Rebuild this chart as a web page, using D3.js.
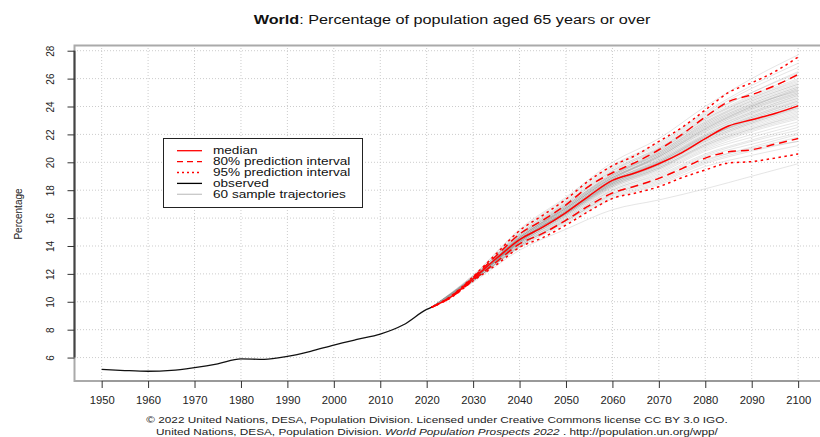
<!DOCTYPE html>
<html>
<head>
<meta charset="utf-8">
<script src="https://cdn.jsdelivr.net/npm/d3@7"></script>
<style>
  html, body { margin: 0; padding: 0; background: #fff; }
  svg { display: block; font-family: "Liberation Sans", Arial, Helvetica, sans-serif; }
</style>
</head>
<body>
<svg id="chart" width="820" height="437"></svg>
<script>
/* World: % population aged 65+ (observed + probabilistic projection) */

// observed (black)
const obsYears  = [1950, 1955, 1960, 1965, 1970, 1975, 1980, 1985, 1990, 1995, 2000, 2005, 2010, 2015, 2020, 2021];
const obsValues = [5.15, 5.07, 5.02, 5.08, 5.28, 5.55, 5.9, 5.87, 6.08, 6.45, 6.9, 7.3, 7.68, 8.35, 9.45, 9.6];

// projections
const projYears = [2021, 2025, 2030, 2035, 2040, 2045, 2050, 2055, 2060, 2065, 2070, 2075, 2080, 2085, 2090, 2095, 2100];
const median = [9.6, 10.3, 11.65, 13.1, 14.45, 15.35, 16.4, 17.6, 18.7, 19.25, 19.9, 20.7, 21.7, 22.6, 23.05, 23.5, 24.05];
const pi80up = [9.6, 10.33, 11.75, 13.3, 14.85, 15.85, 16.95, 18.3, 19.25, 20.0, 20.9, 22.0, 23.25, 24.35, 24.85, 25.5, 26.3];
const pi80lo = [9.6, 10.27, 11.55, 12.85, 14.15, 14.9, 15.85, 16.9, 17.8, 18.3, 18.85, 19.55, 20.3, 20.75, 20.9, 21.3, 21.7];
const pi95up = [9.6, 10.35, 11.8, 13.45, 15.1, 16.2, 17.35, 18.7, 19.75, 20.5, 21.5, 22.5, 23.75, 25.0, 25.7, 26.5, 27.55];
const pi95lo = [9.6, 10.25, 11.5, 12.65, 13.9, 14.6, 15.5, 16.5, 17.4, 17.8, 18.25, 18.9, 19.45, 19.95, 20.05, 20.3, 20.6];

// 60 sample trajectories (2030..2100 by decade, all start at 2021 value)
const trajStart = 9.6;
const trajYears = [2030, 2040, 2050, 2060, 2070, 2080, 2090, 2100];
const trajectories = [
  [11.6, 14.3, 16.3, 18.5, 19.8, 21.6, 22.9, 24.0],
  [11.7, 14.6, 16.7, 18.9, 20.3, 22.2, 23.6, 24.8],
  [11.5, 14.0, 15.8, 17.7, 18.8, 20.2, 21.0, 21.8],
  [11.8, 14.9, 17.1, 19.4, 20.9, 22.9, 24.4, 25.6],
  [11.6, 14.4, 16.5, 18.7, 20.1, 21.9, 23.3, 24.4],
  [11.7, 14.5, 16.6, 18.8, 20.5, 22.5, 24.0, 25.2],
  [11.6, 14.2, 16.1, 18.2, 19.4, 21.0, 22.2, 23.1],
  [11.9, 15.1, 17.4, 19.8, 21.4, 23.6, 25.5, 27.1],
  [11.5, 13.9, 15.6, 17.4, 18.4, 19.7, 20.5, 21.2],
  [11.7, 14.7, 16.9, 19.1, 20.6, 22.6, 24.1, 25.3],
  [11.6, 14.3, 16.4, 18.6, 20.0, 21.8, 23.1, 24.2],
  [11.7, 14.6, 16.8, 19.0, 20.7, 22.8, 24.3, 25.5],
  [11.6, 14.4, 16.4, 18.4, 19.6, 21.3, 22.5, 23.5],
  [11.8, 14.8, 17.0, 19.3, 21.0, 23.2, 24.8, 26.2],
  [11.5, 14.1, 16.0, 18.0, 19.1, 20.6, 21.6, 22.5],
  [11.7, 14.5, 16.7, 18.9, 20.4, 22.3, 23.8, 25.0],
  [11.6, 14.3, 16.3, 18.4, 19.8, 21.5, 22.8, 23.8],
  [11.7, 14.6, 16.8, 19.1, 20.8, 23.0, 24.6, 25.9],
  [11.4, 13.7, 15.2, 16.6, 17.3, 18.1, 19.0, 19.9],
  [11.6, 14.4, 16.5, 18.6, 20.0, 21.9, 23.4, 24.6],
  [11.7, 14.6, 16.7, 18.9, 20.5, 22.4, 23.9, 25.1],
  [11.6, 14.2, 16.2, 18.3, 19.6, 21.2, 22.4, 23.4],
  [11.9, 15.2, 17.5, 20.0, 21.7, 24.0, 26.0, 27.7],
  [11.5, 14.0, 15.9, 17.9, 19.0, 20.5, 21.5, 22.3],
  [11.7, 14.7, 16.9, 19.2, 20.8, 22.9, 24.5, 25.7],
  [11.6, 14.4, 16.5, 18.7, 20.2, 22.0, 23.5, 24.7],
  [11.6, 14.3, 16.3, 18.4, 19.7, 21.4, 22.7, 23.7],
  [11.8, 14.9, 17.2, 19.6, 21.2, 23.4, 25.0, 26.4],
  [11.5, 14.0, 15.8, 17.6, 18.6, 20.0, 20.9, 21.5],
  [11.7, 14.5, 16.6, 18.8, 20.3, 22.2, 23.7, 24.9],
  [11.6, 14.4, 16.4, 18.5, 19.9, 21.7, 23.0, 24.1],
  [11.7, 14.6, 16.8, 19.0, 20.6, 22.7, 24.2, 25.4],
  [11.6, 14.2, 16.1, 18.1, 19.3, 20.9, 22.0, 22.9],
  [11.7, 14.7, 16.9, 19.2, 20.9, 23.1, 24.7, 26.0],
  [11.6, 14.3, 16.3, 18.5, 19.9, 21.7, 23.2, 24.3],
  [11.5, 14.1, 15.9, 17.8, 18.9, 20.4, 21.3, 22.1],
  [11.7, 14.5, 16.6, 18.8, 20.4, 22.4, 23.9, 25.0],
  [11.6, 14.4, 16.5, 18.6, 20.1, 21.9, 23.2, 24.4],
  [11.8, 14.8, 17.0, 19.4, 21.1, 23.3, 25.0, 26.5],
  [11.6, 14.2, 16.2, 18.2, 19.5, 21.1, 22.3, 23.2],
  [11.7, 14.6, 16.7, 18.9, 20.5, 22.5, 24.0, 25.2],
  [11.6, 14.3, 16.4, 18.5, 19.8, 21.6, 22.9, 23.9],
  [11.5, 13.9, 15.7, 17.5, 18.5, 19.9, 20.8, 21.5],
  [11.7, 14.6, 16.8, 19.1, 20.7, 22.8, 24.4, 25.6],
  [11.6, 14.4, 16.5, 18.7, 20.2, 22.1, 23.6, 24.8],
  [11.6, 14.3, 16.3, 18.3, 19.6, 21.3, 22.6, 23.6],
  [11.8, 15.0, 17.3, 19.7, 21.3, 23.5, 25.3, 26.8],
  [11.6, 14.4, 16.4, 18.6, 20.0, 21.8, 23.3, 24.5],
  [11.7, 14.5, 16.6, 18.8, 20.4, 22.3, 23.8, 24.9],
  [11.5, 14.1, 16.0, 18.0, 19.2, 20.8, 21.8, 22.7],
  [11.7, 14.7, 16.9, 19.1, 20.7, 22.7, 24.2, 25.4],
  [11.6, 14.3, 16.3, 18.4, 19.7, 21.5, 22.8, 23.9],
  [11.7, 14.6, 16.7, 18.9, 20.4, 22.4, 24.0, 25.3],
  [11.6, 14.2, 16.2, 18.3, 19.5, 21.2, 22.4, 23.3],
  [11.5, 14.0, 15.8, 17.7, 18.7, 20.1, 21.1, 22.0],
  [11.7, 14.5, 16.7, 19.0, 20.6, 22.6, 24.1, 25.1],
  [11.6, 14.4, 16.4, 18.6, 20.0, 21.8, 23.0, 24.0],
  [11.8, 14.8, 17.1, 19.5, 21.0, 23.1, 24.6, 25.8],
  [11.6, 14.3, 16.4, 18.5, 19.9, 21.7, 23.1, 24.2],
  [11.6, 14.4, 16.5, 18.7, 20.1, 22.0, 23.5, 24.6]
];

const xTicks = d3.range(1950, 2101, 10);
const yTicks = d3.range(6, 29, 2);

const legendItems = [
  {label: "median", color: "#ff0000", dash: null},
  {label: "80% prediction interval", color: "#ff0000", dash: "6,4"},
  {label: "95% prediction interval", color: "#ff0000", dash: "2,3"},
  {label: "observed", color: "#000", dash: null},
  {label: "60 sample trajectories", color: "#c8c8c8", dash: null}
];

const svg = d3.select("#chart");

// plot region (right side runs past the image edge, as in the source)
const x = d3.scaleLinear().domain([1944, 2106]).range([73.8, 826]);
const y = d3.scaleLinear().domain([4.32, 28.41]).range([381, 45]);

const line = d3.line()
  .x(d => x(d[0]))
  .y(d => y(d[1]))
  .curve(d3.curveMonotoneX);

const zip = (xs, ys) => xs.map((v, i) => [v, ys[i]]);

// text in the source is drawn wider than the font's natural width
function wideText(sel, cx, cy, sx) {
  return sel.append("g").attr("transform", `translate(${cx},${cy}) scale(${sx},1)`).append("text");
}

// grid
const grid = svg.append("g").attr("stroke", "#cccccc").attr("stroke-dasharray", "1,2").attr("stroke-width", 1);
grid.selectAll("line.v").data(xTicks).enter().append("line")
  .attr("x1", d => x(d)).attr("x2", d => x(d))
  .attr("y1", 45).attr("y2", 381);
grid.selectAll("line.h").data(yTicks).enter().append("line")
  .attr("x1", 74).attr("x2", 820)
  .attr("y1", d => y(d)).attr("y2", d => y(d));

// sample trajectories
svg.append("g").selectAll("path")
  .data(trajectories)
  .enter().append("path")
  .attr("d", t => line([[2021, trajStart]].concat(zip(trajYears, t))))
  .attr("fill", "none")
  .attr("stroke", "rgb(150,150,150)")
  .attr("stroke-opacity", 0.25)
  .attr("stroke-width", 1);

// prediction intervals + median
const redSeries = [
  {vals: pi95up, dash: "2.5,3.5"},
  {vals: pi95lo, dash: "2.5,3.5"},
  {vals: pi80up, dash: "8,5"},
  {vals: pi80lo, dash: "8,5"},
  {vals: median, dash: null}
];
svg.append("g").selectAll("path")
  .data(redSeries)
  .enter().append("path")
  .attr("d", d => line(zip(projYears, d.vals)))
  .attr("fill", "none")
  .attr("stroke", "#ff0000")
  .attr("stroke-width", 1.5)
  .attr("stroke-dasharray", d => d.dash);

// observed
svg.append("path")
  .attr("d", line(zip(obsYears, obsValues)))
  .attr("fill", "none")
  .attr("stroke", "#111")
  .attr("stroke-width", 1.3);

// box
svg.append("path")
  .attr("d", "M820,45.5H74.5V381H820")
  .attr("fill", "none")
  .attr("stroke", "#aaa")
  .attr("stroke-width", 2);

// y axis
const yAxis = svg.append("g").attr("transform", "translate(74.5,0)")
  .call(d3.axisLeft(y).tickValues(yTicks).tickSize(7).tickFormat(d3.format("d")));
yAxis.select(".domain").attr("d", `M0,${y(28)}V${y(6)}`).attr("stroke", "#444").attr("stroke-width", 2);
yAxis.selectAll(".tick line").attr("stroke", "#333");
yAxis.selectAll(".tick text")
  .attr("x", null).attr("dy", null)
  .attr("transform", "translate(-21,0) rotate(-90)")
  .attr("text-anchor", "middle")
  .attr("font-size", 10)
  .attr("fill", "#222");

// x axis
const xAxis = svg.append("g").attr("transform", "translate(0,381)")
  .call(d3.axisBottom(x).tickValues(xTicks).tickSize(7).tickFormat(d3.format("d")));
xAxis.select(".domain").attr("d", `M${x(1950)},0H${x(2100)}`).attr("stroke", "#999").attr("stroke-width", 2);
xAxis.selectAll(".tick line").attr("stroke", "#333");
xAxis.selectAll(".tick text")
  .attr("y", 16).attr("dy", "0.71em")
  .attr("font-size", 10.5)
  .attr("transform", "scale(1.07,1)")
  .attr("fill", "#222");
svg.selectAll(".domain").attr("fill", "none");

// axis title
svg.append("text")
  .attr("transform", "translate(22,214) rotate(-90)")
  .attr("text-anchor", "middle")
  .attr("font-size", 10)
  .attr("fill", "#222")
  .text("Percentage");

// title
const title = wideText(svg, 452, 24, 1.2)
  .attr("text-anchor", "middle")
  .attr("font-size", 13.5)
  .attr("fill", "#111");
title.append("tspan").attr("font-weight", "bold").text("World");
title.append("tspan").text(": Percentage of population aged 65 years or over");

// legend
const lg = svg.append("g").attr("transform", "translate(163.5,138.5)");
lg.append("rect").attr("width", 199).attr("height", 69)
  .attr("fill", "#fff").attr("stroke", "#222").attr("stroke-width", 1);
const li = lg.selectAll("g.item").data(legendItems).enter().append("g")
  .attr("transform", (d, i) => `translate(0,${12.2 + i * 10.9})`);
li.append("line")
  .attr("x1", 13.5).attr("x2", 38.5)
  .attr("stroke", d => d.color)
  .attr("stroke-width", 1.3)
  .attr("stroke-dasharray", d => d.dash);
li.append("g").attr("transform", "translate(49.5,0) scale(1.32,1)")
  .append("text")
  .attr("dy", "0.35em")
  .attr("font-size", 10.3)
  .attr("fill", "#111")
  .text(d => d.label);

// footer
const f1 = wideText(svg, 437, 423, 1.24).attr("font-size", 9.5).attr("fill", "#222").attr("text-anchor", "middle")
  .text("© 2022 United Nations, DESA, Population Division. Licensed under Creative Commons license CC BY 3.0 IGO.");
const f2 = wideText(svg, 437, 435, 1.24).attr("font-size", 9.5).attr("fill", "#222").attr("text-anchor", "middle");
f2.append("tspan").text("United Nations, DESA, Population Division. ");
f2.append("tspan").attr("font-style", "italic").text("World Population Prospects 2022");
f2.append("tspan").text(" . http://population.un.org/wpp/");
</script>
</body>
</html>
